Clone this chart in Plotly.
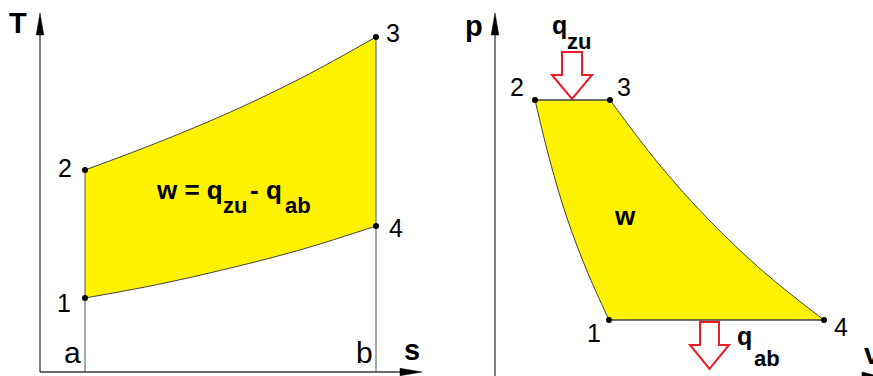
import plotly.graph_objects as go

W, H = 873, 376
FONT = "Liberation Sans, Arial, sans-serif"
YELLOW = "#fff200"
OUTLINE = "#404040"
AXIS = "#3a3a3a"
RED = "#ed1c24"

# ---------------- T-s diagram (Joule cycle) ----------------
# states 1, 2, 3, 4 ; s measured from s_a (=0) to s_b (=1), T in K
state_labels = ["1", "2", "3", "4"]
s_states = [0.0, 0.0, 1.0, 1.0]
T_states = [296, 808, 1340, 584]
# isobars 1-4 (heat rejection) and 2-3 (heat supply)
s_isobar = [0.0, 0.25, 0.5, 0.75, 1.0]
T_isobar_14 = [296, 350, 416, 492, 584]
T_isobar_23 = [808, 918, 1040, 1180, 1340]
s_marks = [0.0, 1.0]
s_mark_labels = ["a", "b"]

# ---------------- p-v diagram ----------------
v_states = [1.14, 0.40, 1.15, 3.29]
p_states = [0.57, 2.77, 2.77, 0.57]
# isentropes 2-1 and 3-4, both read from the upper isobar downwards
v_isen_21 = [0.40, 0.55, 0.72, 0.92, 1.14]
p_isen_21 = [2.77, 2.16, 1.59, 1.06, 0.57]
v_isen_34 = [1.15, 1.63, 2.15, 2.70, 3.29]
p_isen_34 = [2.77, 2.14, 1.56, 1.04, 0.57]

# ---------------- frame geometry (pixels) ----------------
TS_X0, TS_SCALE_S = 85, 291      # pixel of s = 0, pixels per unit s
TS_Y0, TS_SCALE_T = 372, 0.25    # pixel of T = 0, pixels per K
PV_X0, PV_SCALE_V = 495, 100     # pixel of v = 0, pixels per unit v
PV_Y0, PV_SCALE_P = 377, 100     # pixel of p = 0, pixels per unit p


def paper(px, py):
    return px / W, 1 - py / H


def poly_path(points):
    pts = [paper(x, y) for x, y in points]
    return "M " + " L ".join(f"{x:.5f},{y:.5f}" for x, y in pts) + " Z"


curve = dict(color=OUTLINE, width=1, shape="spline", simplify=False)
fig = go.Figure()

# T-s cycle: area between the two isobars
fig.add_trace(go.Scatter(x=s_isobar, y=T_isobar_14, mode="lines", line=curve,
                         xaxis="x", yaxis="y", hoverinfo="skip"))
fig.add_trace(go.Scatter(x=s_isobar, y=T_isobar_23, mode="lines", line=curve,
                         fill="tonexty", fillcolor=YELLOW,
                         xaxis="x", yaxis="y", hoverinfo="skip"))

# verticals at s_a and s_b down to the s axis
for s_m, T_top in zip(s_marks, [T_states[1], T_states[2]]):
    fig.add_trace(go.Scatter(
        x=[s_m, s_m], y=[T_top, 0], mode="lines",
        line=dict(color="#505050", width=1), xaxis="x", yaxis="y", hoverinfo="skip"))

fig.add_trace(go.Scatter(
    x=s_states, y=T_states, mode="markers",
    marker=dict(color="black", size=6), xaxis="x", yaxis="y", hoverinfo="skip"))

# p-v cycle: area between the two isentropes, closed by the isobars
fig.add_trace(go.Scatter(x=v_isen_21, y=p_isen_21, mode="lines", line=curve,
                         xaxis="x2", yaxis="y2", hoverinfo="skip"))
fig.add_trace(go.Scatter(x=v_isen_34, y=p_isen_34, mode="lines", line=curve,
                         fill="tonextx", fillcolor=YELLOW,
                         xaxis="x2", yaxis="y2", hoverinfo="skip"))
# isobars 2-3 and 4-1
for i, j in [(1, 2), (3, 0)]:
    fig.add_trace(go.Scatter(
        x=[v_states[i], v_states[j]], y=[p_states[i], p_states[j]], mode="lines",
        line=dict(color=OUTLINE, width=1.3), xaxis="x2", yaxis="y2", hoverinfo="skip"))

fig.add_trace(go.Scatter(
    x=v_states, y=p_states, mode="markers",
    marker=dict(color="black", size=6), xaxis="x2", yaxis="y2", hoverinfo="skip"))

shapes = []
# T-s axes with arrow heads
shapes.append(dict(type="line", xref="paper", yref="paper",
                   x0=paper(40, 372)[0], y0=paper(40, 372)[1],
                   x1=paper(40, 30)[0], y1=paper(40, 30)[1],
                   line=dict(color=AXIS, width=1.3)))
shapes.append(dict(type="line", xref="paper", yref="paper",
                   x0=paper(40, 372)[0], y0=paper(40, 372)[1],
                   x1=paper(404, 372)[0], y1=paper(404, 372)[1],
                   line=dict(color=AXIS, width=1.3)))
shapes.append(dict(type="path", xref="paper", yref="paper",
                   path=poly_path([(40, 13), (43.8, 35), (36.2, 35)]),
                   fillcolor="black", line=dict(color="black", width=0.5)))
shapes.append(dict(type="path", xref="paper", yref="paper",
                   path=poly_path([(422, 372), (400, 368.3), (400, 375.7)]),
                   fillcolor="black", line=dict(color="black", width=0.5)))
# p-v axes
shapes.append(dict(type="line", xref="paper", yref="paper",
                   x0=paper(495, 380)[0], y0=paper(495, 380)[1],
                   x1=paper(495, 30)[0], y1=paper(495, 30)[1],
                   line=dict(color=AXIS, width=1.3)))
shapes.append(dict(type="path", xref="paper", yref="paper",
                   path=poly_path([(495, 13), (498.8, 35), (491.2, 35)]),
                   fillcolor="black", line=dict(color="black", width=0.5)))
shapes.append(dict(type="path", xref="paper", yref="paper",
                   path=poly_path([(886, 378), (862, 372), (862, 384)]),
                   fillcolor="black", line=dict(color="black", width=0.5)))
# heat flow arrows
shapes.append(dict(type="path", xref="paper", yref="paper",
                   path=poly_path([(562, 52), (582, 52), (582, 75), (592, 75),
                                   (572, 99), (552, 75), (562, 75)]),
                   fillcolor="white", line=dict(color=RED, width=2)))
shapes.append(dict(type="path", xref="paper", yref="paper",
                   path=poly_path([(700, 322), (719, 322), (719, 345), (729, 345),
                                   (709.5, 369), (690, 345), (700, 345)]),
                   fillcolor="white", line=dict(color=RED, width=2)))

ann = []


def text_px(t, px, py, size, bold=False, anchor="center"):
    x, y = paper(px, py)
    ann.append(dict(text=t, x=x, y=y, xref="paper", yref="paper",
                    xanchor=anchor, yanchor="middle", showarrow=False,
                    font=dict(family=FONT, size=size, color="black",
                              weight="bold" if bold else "normal")))


def text_data(t, x, y, xa, ya, dx, dy, size, bold=False):
    ann.append(dict(text=t, x=x, y=y, xref=xa, yref=ya, xshift=dx, yshift=dy,
                    xanchor="center", yanchor="middle", showarrow=False,
                    font=dict(family=FONT, size=size, color="black",
                              weight="bold" if bold else "normal")))


# state numbers
ts_offsets = [(-21, -5), (-20, 2.5), (17, 4), (19.5, -1.5)]
for lab, s, T, (dx, dy) in zip(state_labels, s_states, T_states, ts_offsets):
    text_data(lab, s, T, "x", "y", dx, dy, 25)
pv_offsets = [(-15, -13), (-18.5, 13.3), (14, 13), (16.5, -7)]
for lab, v, p, (dx, dy) in zip(state_labels, v_states, p_states, pv_offsets):
    text_data(lab, v, p, "x2", "y2", dx, dy, 25)

# entropy marks a, b
for lab, s_m, dx in zip(s_mark_labels, s_marks, [-13, -11.5]):
    text_data(lab, s_m, 0, "x", "y", dx, 19.5, 30)

# axis titles
text_px("T", 18, 23, 29, bold=True)
text_px("s", 412, 350, 29, bold=True)
text_px("p", 474, 26, 29, bold=True)
text_px("v", 862, 354, 29, bold=True, anchor="left")

# work in the T-s diagram
text_px("w = q", 154, 189.5, 26, bold=True, anchor="left")
text_px("zu", 221, 205.5, 22, bold=True, anchor="left")
text_px("-", 248, 190, 26, bold=True, anchor="left")
text_px("q", 264, 189.5, 26, bold=True, anchor="left")
text_px("ab", 283, 205.5, 22, bold=True, anchor="left")

# work and heat labels in the p-v diagram
text_px("w", 625, 216, 26, bold=True)
text_px("q", 550, 25, 25, bold=True, anchor="left")
text_px("zu", 565, 41.5, 22, bold=True, anchor="left")
text_px("q", 735, 336, 25, bold=True, anchor="left")
text_px("ab", 752, 358, 22, bold=True, anchor="left")

hidden = dict(visible=False, fixedrange=True, showgrid=False, zeroline=False)
fig.update_layout(
    width=W, height=H, margin=dict(l=0, r=0, t=0, b=0),
    paper_bgcolor="white", plot_bgcolor="white", showlegend=False,
    xaxis=dict(domain=[0, 1],
               range=[(0 - TS_X0) / TS_SCALE_S, (W - TS_X0) / TS_SCALE_S], **hidden),
    yaxis=dict(domain=[0, 1],
               range=[(TS_Y0 - H) / TS_SCALE_T, TS_Y0 / TS_SCALE_T], **hidden),
    xaxis2=dict(domain=[0, 1], overlaying="x", anchor="y2",
                range=[(0 - PV_X0) / PV_SCALE_V, (W - PV_X0) / PV_SCALE_V], **hidden),
    yaxis2=dict(domain=[0, 1], overlaying="y", anchor="x2",
                range=[(PV_Y0 - H) / PV_SCALE_P, PV_Y0 / PV_SCALE_P], **hidden),
    shapes=shapes, annotations=ann,
)

fig.write_html("out.html", config={"displayModeBar": False})
